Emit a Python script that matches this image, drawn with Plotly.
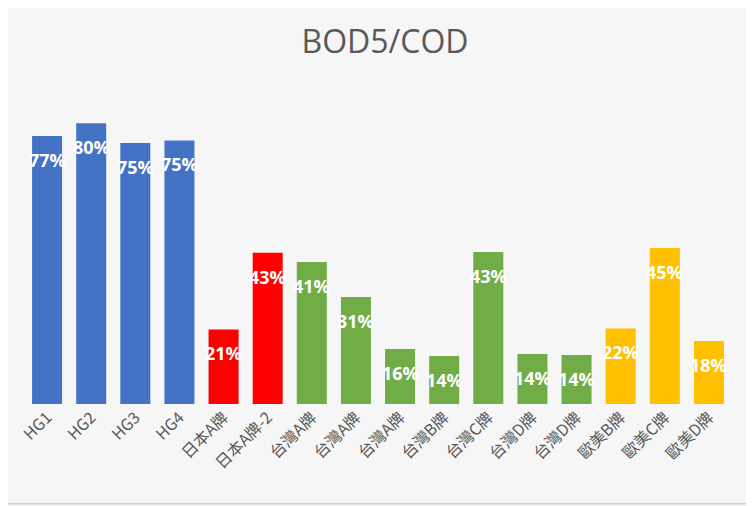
import plotly.graph_objects as go

categories = ["HG1", "HG2", "HG3", "HG4", "日本A牌", "日本A牌-2", "台灣A牌", "台灣A牌",
              "台灣A牌", "台灣B牌", "台灣C牌", "台灣D牌", "台灣D牌", "歐美B牌", "歐美C牌", "歐美D牌"]
ratios = [76.6, 80.2, 74.6, 75.3, 21.3, 43.2, 40.6, 30.6, 15.7, 13.7, 43.4, 14.3, 14.0, 21.6, 44.6, 18.0]
labels = ["77%", "80%", "75%", "75%", "21%", "43%", "41%", "31%",
          "16%", "14%", "43%", "14%", "14%", "22%", "45%", "18%"]
groups = ["HG"] * 4 + ["JP"] * 2 + ["TW"] * 7 + ["EU"] * 3

group_colors = {"HG": "#4472C4", "JP": "#FF0000", "TW": "#70AD47", "EU": "#FFC000"}

# repeated names need unique positions on the axis
xpos = list(range(len(categories)))

fig = go.Figure()
fig.add_trace(go.Bar(
    x=xpos,
    y=ratios,
    marker=dict(color=[group_colors[g] for g in groups], line=dict(width=0)),
    hoverinfo="skip",
))

for i in range(len(categories)):
    fig.add_annotation(
        x=xpos[i], y=ratios[i], text="<b>" + labels[i] + "</b>",
        showarrow=False, yshift=-24,
        font=dict(family="Open Sans", size=18, color="white"),
    )

# outer chart border (page body adds an 8px offset)
fig.add_shape(type="rect", xref="paper", yref="paper", x0=-0.034, x1=1.0297, y0=-0.317, y1=1.279,
              line=dict(color="#d0d0d0", width=1.5), layer="below")

fig.update_layout(
    width=754, height=506,
    margin=dict(l=17, r=31, t=81, b=110),
    paper_bgcolor="#f6f6f6", plot_bgcolor="rgba(0,0,0,0)",
    title=dict(text="BOD5/COD", x=0.5, xanchor="center", y=0.933, yanchor="middle",
               font=dict(family="Open Sans", size=32, color="#595959")),
    bargap=0.32, showlegend=False,
    xaxis=dict(tickmode="array", tickvals=xpos, ticktext=categories, tickangle=-45,
               tickfont=dict(family="Noto Sans CJK TC", size=16, color="#595959"),
               showgrid=False, zeroline=False, showline=False, ticks="", automargin=False),
    yaxis=dict(range=[0, 90], visible=False, automargin=False),
)

fig.write_html("out.html")
